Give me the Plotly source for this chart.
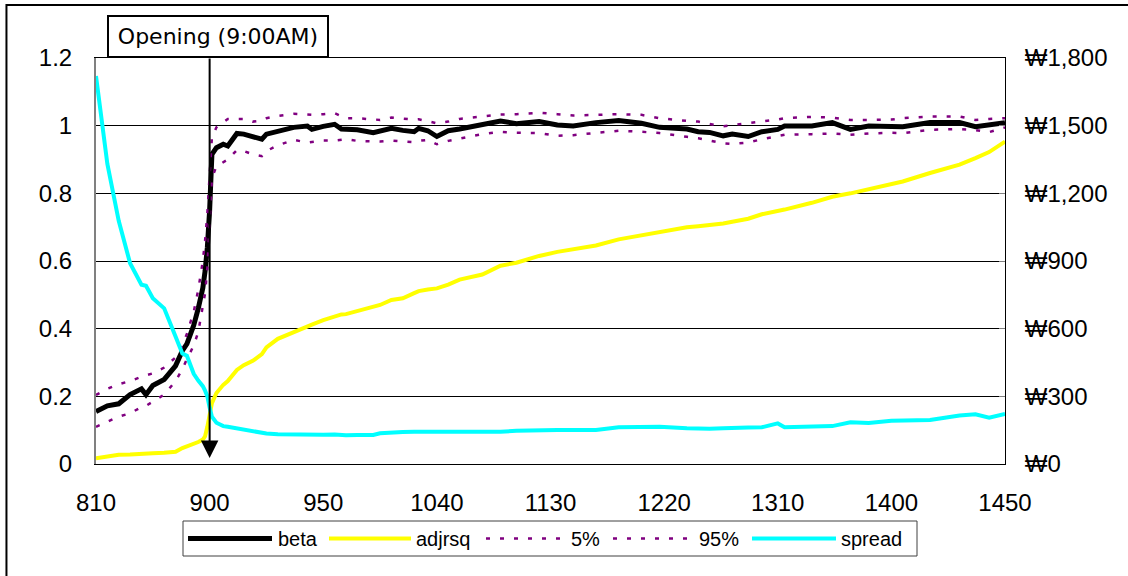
import plotly.graph_objects as go

# ---------------- data ----------------
times = [810, 815, 820, 825, 830, 832, 835, 840, 845, 848,
         850, 853, 855, 857, 858, 859, 900, 901, 903, 906,
         908, 912, 915, 919, 923, 925, 930, 937, 943, 945,
         950, 955, 958, 1000, 1005, 1012, 1015, 1020, 1025, 1030,
         1032, 1036, 1040, 1045, 1050, 1100, 1108, 1115, 1125, 1133,
         1140, 1150, 1200, 1210, 1218, 1230, 1235, 1240, 1246, 1250,
         1257, 1303, 1310, 1313, 1325, 1334, 1342, 1350, 1400, 1405,
         1417, 1430, 1437, 1443, 1450]

beta = [0.155, 0.172, 0.178, 0.205, 0.222, 0.205, 0.232, 0.250, 0.290, 0.335,
        0.355, 0.410, 0.460, 0.520, 0.570, 0.640, 0.750, 0.915, 0.935, 0.945,
        0.940, 0.977, 0.975, 0.966, 0.960, 0.975, 0.982, 0.995, 0.999, 0.989,
        0.998, 1.004, 0.990, 0.990, 0.988, 0.979, 0.985, 0.992, 0.986, 0.982,
        0.992, 0.985, 0.968, 0.985, 0.990, 1.002, 1.014, 1.006, 1.012, 1.002,
        0.999, 1.009, 1.015, 1.007, 0.995, 0.990, 0.982, 0.980, 0.970, 0.975,
        0.968, 0.982, 0.989, 0.999, 0.999, 1.009, 0.989, 0.999, 0.997, 0.997,
        1.009, 1.009, 0.997, 1.004, 1.009]

adjrsq = [0.017, 0.022, 0.027, 0.028, 0.031, 0.032, 0.032, 0.033, 0.036, 0.047,
          0.052, 0.058, 0.065, 0.072, 0.082, 0.110, 0.150, 0.180, 0.210, 0.234,
          0.245, 0.278, 0.292, 0.305, 0.325, 0.345, 0.370, 0.391, 0.407, 0.412,
          0.425, 0.436, 0.442, 0.443, 0.452, 0.462, 0.470, 0.485, 0.490, 0.505,
          0.511, 0.516, 0.519, 0.530, 0.545, 0.560, 0.586, 0.595, 0.615, 0.627,
          0.635, 0.646, 0.664, 0.677, 0.685, 0.700, 0.703, 0.706, 0.711, 0.716,
          0.725, 0.738, 0.746, 0.752, 0.772, 0.790, 0.800, 0.812, 0.826, 0.835,
          0.860, 0.885, 0.904, 0.922, 0.953]

q05 = [0.110, 0.125, 0.140, 0.150, 0.168, 0.172, 0.185, 0.205, 0.245, 0.280,
       0.310, 0.350, 0.390, 0.460, 0.505, 0.580, 0.700, 0.845, 0.880, 0.892,
       0.900, 0.928, 0.925, 0.915, 0.910, 0.925, 0.942, 0.958, 0.950, 0.952,
       0.956, 0.956, 0.958, 0.960, 0.955, 0.953, 0.953, 0.956, 0.953, 0.951,
       0.955, 0.958, 0.945, 0.955, 0.962, 0.975, 0.982, 0.979, 0.978, 0.970,
       0.972, 0.978, 0.985, 0.982, 0.978, 0.967, 0.963, 0.956, 0.948, 0.946,
       0.950, 0.960, 0.970, 0.973, 0.975, 0.977, 0.973, 0.977, 0.979, 0.978,
       0.988, 0.990, 0.987, 0.981, 0.995]

q95 = [0.204, 0.222, 0.236, 0.245, 0.258, 0.262, 0.268, 0.285, 0.315, 0.350,
       0.385, 0.450, 0.515, 0.600, 0.660, 0.740, 0.860, 0.965, 0.995, 1.010,
       1.020, 1.020, 1.020, 1.012, 1.015, 1.022, 1.029, 1.035, 1.032, 1.032,
       1.034, 1.037, 1.028, 1.022, 1.022, 1.017, 1.017, 1.024, 1.020, 1.018,
       1.019, 1.012, 1.007, 1.012, 1.020, 1.027, 1.033, 1.034, 1.038, 1.034,
       1.030, 1.032, 1.034, 1.032, 1.022, 1.014, 1.012, 1.005, 0.998, 1.002,
       1.007, 1.012, 1.018, 1.022, 1.026, 1.024, 1.017, 1.017, 1.018, 1.022,
       1.027, 1.027, 1.017, 1.020, 1.022]

spread = [1720, 1330, 1078, 890, 795, 790, 735, 690, 565, 490,
          480, 400, 370, 345, 325, 300, 250, 210, 183, 168,
          165, 158, 155, 150, 143, 135, 132, 130, 129, 132,
          130, 131, 128, 127, 129, 129, 136, 140, 142, 143,
          143, 143, 143, 143, 142, 143, 143, 147, 151, 151,
          151, 151, 163, 165, 165, 158, 155, 156, 158, 158,
          162, 163, 180, 163, 165, 168, 185, 182, 192, 192,
          195, 215, 220, 205, 222]

x_ticks_hhmm = [810, 900, 950, 1040, 1130, 1220, 1310, 1400, 1450]
left_ticks = [0, 0.2, 0.4, 0.6, 0.8, 1.0, 1.2]
right_ticks = [0, 300, 600, 900, 1200, 1500, 1800]
opening_hhmm = 900
opening_label = "Opening (9:00AM)"

series_names = ["beta", "adjrsq", "5%", "95%", "spread"]


def to_min(hhmm):
    return (hhmm // 100) * 60 + hhmm % 100


xm = [to_min(t) for t in times]
xt = [to_min(t) for t in x_ticks_hhmm]

FONT = "Liberation Sans, Arial, Noto Sans CJK KR, sans-serif"
BLACK = "#000000"
YELLOW = "#FFFF00"
PURPLE = "#800080"
CYAN = "#00FFFF"
DOT = "4px,10px"

fig = go.Figure()
fig.add_trace(go.Scatter(x=xm, y=beta, name="beta", mode="lines",
                         line=dict(color=BLACK, width=5)))
fig.add_trace(go.Scatter(x=xm, y=adjrsq, name="adjrsq", mode="lines",
                         line=dict(color=YELLOW, width=4)))
fig.add_trace(go.Scatter(x=xm, y=q05, name="5%", mode="lines",
                         line=dict(color=PURPLE, width=2.5, dash=DOT)))
fig.add_trace(go.Scatter(x=xm, y=q95, name="95%", mode="lines",
                         line=dict(color=PURPLE, width=2.5, dash=DOT)))
fig.add_trace(go.Scatter(x=xm, y=spread, name="spread", mode="lines", yaxis="y2",
                         line=dict(color=CYAN, width=4)))

fig.update_layout(
    width=1128, height=576,
    margin=dict(l=96, r=123, t=58, b=112),
    paper_bgcolor="white", plot_bgcolor="white",
    showlegend=False,
    font=dict(family=FONT, size=23, color="black"),
    xaxis=dict(range=[xt[0], xt[-1]], tickmode="array", tickvals=xt,
               ticktext=[str(t) for t in x_ticks_hhmm],
               showgrid=False, zeroline=False, showline=True, mirror=True,
               linecolor=BLACK, linewidth=1, ticks="", ticklabelstandoff=17,
               tickfont=dict(size=24)),
    yaxis=dict(range=[0, 1.2], tickmode="array", tickvals=left_ticks,
               ticktext=[f"{v:g}" for v in left_ticks],
               showgrid=True, gridcolor=BLACK, gridwidth=1, zeroline=False,
               showline=True, linecolor="#808080", linewidth=2, ticks="",
               ticklabelstandoff=17, tickfont=dict(size=24)),
    yaxis2=dict(range=[0, 1800], overlaying="y", side="right",
                tickmode="array", tickvals=right_ticks,
                ticktext=[f"\u20a9{v:,}" for v in right_ticks],
                showgrid=False, zeroline=False, showline=True,
                linecolor=BLACK, linewidth=1, ticks="inside", ticklen=6,
                tickcolor="#808080", ticklabelstandoff=14,
                tickfont=dict(size=24)),
)

# Opening annotation: boxed label and arrow down to the 9:00 position
x_open = to_min(opening_hhmm)
fig.add_annotation(xref="paper", yref="paper", x=0.1345, y=1.0535,
                   text=opening_label, showarrow=False,
                   font=dict(family="DejaVu Sans, sans-serif", size=22, color="black"),
                   bgcolor="white", bordercolor=BLACK, borderwidth=2, borderpad=2,
                   width=214, height=35, xanchor="center", yanchor="middle")
fig.add_annotation(x=x_open, y=0.018, xref="x", yref="y",
                   ax=x_open, ay=1.203, axref="x", ayref="y",
                   text="", showarrow=True, arrowhead=2, arrowsize=1.75,
                   arrowwidth=2, arrowcolor=BLACK, standoff=0)

# outer frame (only top and left edges visible in the picture)
fig.add_shape(type="rect", xref="paper", yref="paper",
              x0=-0.0985, x1=1.3, y0=-0.35, y1=1.1305,
              line=dict(color=BLACK, width=2), fillcolor="rgba(0,0,0,0)", layer="above")

# legend box drawn in paper coordinates
PW, PH, L, B = 909.0, 406.0, 96.0, 464.0


def px_x(p):
    return (p - L) / PW


def px_y(p):
    return (B - p) / PH


fig.add_shape(type="rect", xref="paper", yref="paper",
              x0=px_x(183), x1=px_x(917), y0=px_y(556), y1=px_y(521),
              line=dict(color="#404040", width=1), fillcolor="white")
leg_line_px = [(188, 272), (329, 411), (486, 567), (613, 694), (752, 836)]
leg_text_px = [276, 414, 569, 697, 839]
leg_styles = [dict(color=BLACK, width=5), dict(color=YELLOW, width=4),
              dict(color=PURPLE, width=2.5, dash=DOT), dict(color=PURPLE, width=2.5, dash=DOT),
              dict(color=CYAN, width=4)]
ly = px_y(538.5)
for name, (a, b), tx, st in zip(series_names, leg_line_px, leg_text_px, leg_styles):
    fig.add_shape(type="line", xref="paper", yref="paper",
                  x0=px_x(a), x1=px_x(b), y0=ly, y1=ly, line=st)
    fig.add_annotation(xref="paper", yref="paper", x=px_x(tx), y=ly, text=name,
                       showarrow=False, xanchor="left", yanchor="middle",
                       font=dict(size=20, color="black"))

fig.write_html("out.html", config={"displayModeBar": False},
               post_script="document.body.style.margin='0';document.body.style.overflow='hidden';")
